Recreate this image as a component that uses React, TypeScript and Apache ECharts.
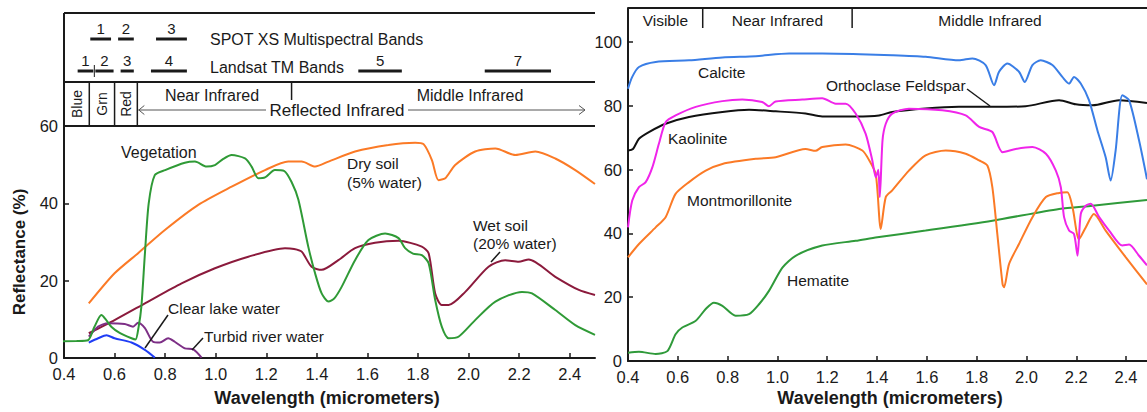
import { useEffect, useRef } from "react";
import * as echarts from "echarts";

// ---------- axis ticks ----------
const xTicks = [0.4, 0.6, 0.8, 1.0, 1.2, 1.4, 1.6, 1.8, 2.0, 2.2, 2.4];
const leftYTicks = [0, 20, 40, 60];
const rightYTicks = [0, 20, 40, 60, 80, 100];

// ---------- left panel: [wavelength µm, reflectance %] ----------
const vegetation: [number, number][] = [
  [0.147, 4.0], [0.3, 4.2], [0.45, 4.4], [0.495, 4.6], [0.52, 8], [0.548, 11.1], [0.565, 10],
  [0.587, 8.1], [0.62, 6.5], [0.667, 5.1], [0.683, 4.8], [0.695, 8], [0.706, 13.3], [0.72, 27],
  [0.735, 40], [0.759, 47.3], [0.8, 48.6], [0.878, 50.5], [0.918, 50.8], [0.964, 49.5],
  [0.997, 49.9], [1.03, 51.5], [1.063, 52.5], [1.116, 51.6], [1.142, 49.5], [1.168, 46.5],
  [1.195, 46.7], [1.234, 48.6], [1.27, 48.4], [1.3, 45.5], [1.327, 40.9], [1.366, 28.8],
  [1.393, 21.9], [1.419, 16.7], [1.446, 14.6], [1.47, 15.5], [1.498, 18.4], [1.551, 25.3],
  [1.604, 30.5], [1.67, 32.2], [1.723, 31], [1.749, 28.4], [1.78, 27], [1.815, 26.6],
  [1.842, 24.5], [1.868, 15], [1.894, 8.1], [1.921, 5.1], [1.96, 5.5], [2.026, 9.8],
  [2.106, 14.6], [2.211, 17.1], [2.251, 16.7], [2.343, 12.4], [2.422, 8.5], [2.5, 6],
];
const drySoil: [number, number][] = [
  [0.498, 14.1], [0.6, 21.9], [0.693, 27.1], [0.799, 33.1], [0.931, 39.6], [1.063, 44.3],
  [1.195, 48.6], [1.287, 50.8], [1.34, 50.8], [1.393, 49.5], [1.446, 50.8], [1.551, 53.4],
  [1.683, 55.1], [1.789, 55.7], [1.822, 55.3], [1.855, 51.2], [1.881, 46], [1.908, 46.5],
  [1.947, 49.9], [2.026, 53.4], [2.106, 54.2], [2.185, 52.5], [2.264, 53.4], [2.343, 51.6],
  [2.422, 48.6], [2.5, 45],
];
const wetSoil: [number, number][] = [
  [0.498, 6.4], [0.6, 9.8], [0.733, 14.6], [0.865, 19.3], [0.997, 23.2], [1.129, 26.2],
  [1.274, 28.4], [1.31, 28.2], [1.34, 27.5], [1.379, 23.6], [1.419, 22.8], [1.485, 25.3],
  [1.551, 28.4], [1.63, 29.8], [1.723, 30.3], [1.815, 28.8], [1.842, 27.1], [1.868, 16.7],
  [1.894, 13.7], [1.921, 13.7], [1.987, 17.1], [2.079, 23.6], [2.145, 25.3], [2.198, 24.9],
  [2.238, 25.5], [2.343, 21], [2.436, 17.6], [2.5, 16.3],
];
const clearLakeWater: [number, number][] = [
  [0.498, 4], [0.535, 5.1], [0.568, 5.9], [0.6, 5.1], [0.667, 4], [0.72, 2.1], [0.759, 0.1],
];
const turbidRiverWater: [number, number][] = [
  [0.498, 5.5], [0.535, 8.1], [0.574, 9], [0.64, 8.8], [0.673, 8.1], [0.693, 9.1], [0.72, 7.7],
  [0.752, 4.2], [0.779, 4], [0.812, 5.1], [0.838, 4.2], [0.878, 2.5], [0.911, 2.2], [0.944, 0.1],
];

// ---------- right panel ----------
const calcite: [number, number][] = [
  [0.4, 85.4], [0.417, 89.1], [0.444, 92.2], [0.511, 93.8], [0.645, 94.3], [0.779, 95.2],
  [0.913, 95.6], [1.047, 96.4], [1.18, 96.4], [1.33, 96.2], [1.461, 95.9], [1.595, 95.4],
  [1.729, 94.3], [1.783, 94.9], [1.836, 92.8], [1.87, 86.5], [1.89, 90.7], [1.923, 93.3],
  [1.97, 90.7], [1.993, 87.5], [2.024, 92.8], [2.057, 94.3], [2.104, 92.8], [2.144, 89.1],
  [2.171, 87], [2.191, 89.1], [2.218, 87], [2.251, 81.8], [2.285, 72.3], [2.318, 63.9],
  [2.338, 56.6], [2.358, 66], [2.385, 83.3], [2.412, 81.8], [2.452, 69.2], [2.484, 57],
];
const orthoclase: [number, number][] = [
  [0.4, 66], [0.42, 66.5], [0.444, 69.7], [0.484, 71.8], [0.551, 74.4], [0.645, 76.5],
  [0.779, 78.1], [0.886, 78.8], [0.993, 78.3], [1.113, 77.6], [1.18, 76.7], [1.314, 76.7],
  [1.408, 77], [1.461, 78.1], [1.595, 79.2], [1.729, 79.7], [1.863, 79.7], [1.997, 79.9],
  [2.131, 81.8], [2.198, 80.5], [2.265, 80.2], [2.372, 81.8], [2.484, 80.9],
];
const kaolinite: [number, number][] = [
  [0.4, 41.9], [0.417, 50.3], [0.444, 54.5], [0.471, 56.1], [0.498, 60.8], [0.524, 68.1],
  [0.551, 74.9], [0.591, 77], [0.672, 79.7], [0.779, 81.5], [0.859, 82], [0.939, 81.2],
  [0.966, 79.9], [0.993, 81.4], [1.1, 82], [1.18, 82.4], [1.234, 80.7], [1.274, 80.7],
  [1.314, 77.6], [1.354, 71.3], [1.381, 62.9], [1.395, 57.6], [1.405, 60], [1.411, 51.4],
  [1.422, 69.2], [1.435, 74.4], [1.461, 77.6], [1.528, 79.1], [1.662, 78.6], [1.756, 77],
  [1.81, 73.4], [1.863, 71.8], [1.904, 65.5], [1.957, 66.5], [2.024, 67.1], [2.078, 65],
  [2.118, 59.7], [2.138, 54.5], [2.151, 45.1], [2.171, 40.9], [2.191, 39.8], [2.205, 33],
  [2.218, 46.1], [2.238, 48.7], [2.258, 49.3], [2.292, 45.1], [2.332, 40.9], [2.385, 36.2],
  [2.412, 36.5], [2.452, 33], [2.484, 30],
];
const montmorillonite: [number, number][] = [
  [0.4, 32.5], [0.444, 36.7], [0.511, 41.9], [0.551, 45.1], [0.591, 52.4], [0.645, 56.1],
  [0.712, 59.7], [0.779, 61.8], [0.913, 63.4], [0.993, 63.9], [1.113, 66.5], [1.153, 65.9],
  [1.18, 67.1], [1.274, 67.9], [1.341, 66], [1.368, 63], [1.395, 58.5], [1.415, 41.4],
  [1.435, 51.4], [1.461, 53.5], [1.528, 59.7], [1.595, 64.5], [1.676, 66], [1.756, 65],
  [1.81, 62.9], [1.843, 61.3], [1.863, 54.5], [1.883, 39.8], [1.904, 24.1], [1.91, 23.1],
  [1.93, 30.4], [1.97, 36.7], [2.024, 45.1], [2.078, 51.4], [2.131, 52.7], [2.164, 52.9],
  [2.185, 48.2], [2.211, 38.2], [2.238, 41.9], [2.271, 46.1], [2.318, 40.9], [2.399, 32.5],
  [2.484, 24],
];
const hematite: [number, number][] = [
  [0.4, 2.6], [0.444, 2.9], [0.511, 2.2], [0.558, 3.1], [0.591, 8.4], [0.618, 10.5],
  [0.672, 12.6], [0.712, 16.3], [0.745, 18.3], [0.779, 17.3], [0.832, 14.2], [0.886, 14.7],
  [0.926, 17.8], [0.966, 22], [1.02, 29.3], [1.073, 33], [1.18, 36.2], [1.314, 37.7],
  [1.401, 38.8], [1.595, 40.9], [1.863, 44], [2.131, 47.7], [2.265, 48.7], [2.484, 50.5],
];

// ---------- header bands (µm) ----------
const spotBands: [number, number, string][] = [
  [0.5, 0.59, "1"], [0.61, 0.68, "2"], [0.76, 0.89, "3"],
];
const landsatBands: [number, number, string][] = [
  [0.45, 0.52, "1"], [0.52, 0.6, "2"], [0.62, 0.68, "3"], [0.74, 0.89, "4"],
  [1.56, 1.74, "5"], [2.06, 2.33, "7"],
];
const leftRegionDividers = [0.5, 0.6, 0.69];
const rightRegionDividers = [0.7, 1.3];

const FONT = '"Liberation Sans", Arial, Helvetica, sans-serif';
const INK = "#1a1a1a";
const ANN = 15.5;

function txt(
  text: string, x: number, y: number, size: number,
  opts: { bold?: boolean; align?: string; rotation?: number; fill?: string } = {}
) {
  const align = opts.align || "left";
  return {
    type: "text",
    x, y,
    rotation: opts.rotation || 0,
    z: 10,
    style: {
      text,
      fill: opts.fill || INK,
      font: `${opts.bold ? "bold " : ""}${size}px ${FONT}`,
      align, textAlign: align,
      verticalAlign: "middle", textVerticalAlign: "middle",
    },
  };
}
function ln(x1: number, y1: number, x2: number, y2: number, w = 1.5, stroke = INK) {
  return { type: "line", z: 10, shape: { x1, y1, x2, y2 }, style: { stroke, lineWidth: w } };
}

function lineSeries(name: string, data: [number, number][], color: string, idx: number, extra: any = {}) {
  return {
    type: "line", name, data, xAxisIndex: idx, yAxisIndex: idx,
    showSymbol: false, symbol: "none", smooth: 0.25,
    lineStyle: { color, width: 2 }, itemStyle: { color },
    silent: true, ...extra,
  };
}

export default function App() {
  const ref = useRef<HTMLDivElement>(null);
  useEffect(() => {
    document.body.style.margin = "0";
    if (!ref.current) return;
    const chart = echarts.init(ref.current, null, { renderer: "svg" });

    const xAxisCommon = {
      type: "value",
      interval: 0.2,
      axisLine: { lineStyle: { color: INK, width: 2 } },
      axisTick: { inside: true, length: 5, lineStyle: { color: INK, width: 1.5 }, customValues: xTicks },
      axisLabel: {
        color: INK, fontSize: 16.5, fontFamily: FONT, margin: 8, lineHeight: 16,
        customValues: xTicks,
        formatter: (v: number) => v.toFixed(1),
      },
      splitLine: { show: false },
    };
    const yAxisCommon = {
      type: "value",
      interval: 20,
      axisLine: { show: true, lineStyle: { color: INK, width: 2 } },
      axisLabel: { color: INK, fontSize: 16.5, fontFamily: FONT, margin: 6, lineHeight: 13 },
      splitLine: { show: false },
    };

    chart.setOption({
      animation: false,
      backgroundColor: "#ffffff",
      grid: [
        { left: 64, top: 126, width: 531, height: 232 },
        { left: 628, top: 8, right: 0, bottom: 51 },
      ],
      xAxis: [
        { ...xAxisCommon, gridIndex: 0, min: 0.4, max: 2.5 },
        { ...xAxisCommon, gridIndex: 1, min: 0.4, max: 2.484 },
      ],
      yAxis: [
        {
          ...yAxisCommon, gridIndex: 0, min: 0, max: 60,
          axisTick: { inside: true, length: 5, lineStyle: { color: INK, width: 1.5 }, customValues: leftYTicks },
          axisLabel: { ...yAxisCommon.axisLabel, customValues: leftYTicks },
        },
        {
          ...yAxisCommon, gridIndex: 1, min: 0, max: 110.7,
          axisTick: { inside: true, length: 5, lineStyle: { color: INK, width: 1.5 }, customValues: rightYTicks },
          axisLabel: { ...yAxisCommon.axisLabel, customValues: rightYTicks },
        },
      ],
      series: [
        lineSeries("Dry soil (5% water)", drySoil, "#fb7a26", 0),
        lineSeries("Wet soil (20% water)", wetSoil, "#8b1a3c", 0),
        lineSeries("Turbid river water", turbidRiverWater, "#7d2f86", 0),
        lineSeries("Clear lake water", clearLakeWater, "#1f3df5", 0),
        lineSeries("Vegetation", vegetation, "#2f9a36", 0, { clip: false }),
        lineSeries("Hematite", hematite, "#2f9a3a", 1),
        lineSeries("Montmorillonite", montmorillonite, "#fb7a26", 1),
        lineSeries("Orthoclase Feldspar", orthoclase, "#111111", 1),
        lineSeries("Kaolinite", kaolinite, "#f024ea", 1),
        lineSeries("Calcite", calcite, "#3a7ee6", 1),
      ],
    });

    const px0 = (w: number) => chart.convertToPixel({ xAxisIndex: 0 }, w) as number;
    const px1 = (w: number) => chart.convertToPixel({ xAxisIndex: 1 }, w) as number;

    const g: any[] = [];
    // left header box
    g.push(ln(64, 13, 595, 13, 2));
    g.push(ln(64, 82, 595, 82, 2));
    g.push(ln(64, 126, 595, 126, 2));
    g.push(ln(64, 13, 64, 126, 2));
    leftRegionDividers.forEach((w) => g.push(ln(px0(w), 82, px0(w), 126, 1.5)));
    g.push(ln(px0(1.3), 82, px0(1.3), 100, 1.5));
    // bands
    spotBands.forEach(([a, b, l]) => {
      g.push(ln(px0(a) + 1, 39, px0(b) - 1, 39, 3));
      g.push(txt(l, (px0(a) + px0(b)) / 2, 28, 15, { align: "center" }));
    });
    landsatBands.forEach(([a, b, l]) => {
      g.push(ln(px0(a) + 1, 71, px0(b) - 1, 71, 3));
      g.push(txt(l, (px0(a) + px0(b)) / 2, 60, 15, { align: "center" }));
    });
    g.push(ln(px0(0.52), 65, px0(0.52), 77, 1));
    g.push(txt("SPOT XS Multispectral Bands", 210, 39, 16));
    g.push(txt("Landsat TM Bands", 210, 67, 16));
    // region labels
    const bx = [64, px0(0.5), px0(0.6), px0(0.69)];
    ["Blue", "Grn", "Red"].forEach((t, i) =>
      g.push(txt(t, (bx[i] + bx[i + 1]) / 2, 104, 14, { align: "center", rotation: Math.PI / 2 }))
    );
    g.push(txt("Near Infrared", 212, 95, 16, { align: "center" }));
    g.push(txt("Middle Infrared", 470, 95, 16, { align: "center" }));
    g.push(txt("Reflected Infrared", 337, 110, 17, { align: "center" }));
    g.push(ln(px0(0.69) + 1, 110, 266, 110, 1, "#555"));
    g.push(ln(408, 110, 585, 110, 1, "#555"));
    g.push({ type: "polyline", z: 10, shape: { points: [[px0(0.69) + 7, 105.5], [px0(0.69) + 1.5, 110], [px0(0.69) + 7, 114.5]] }, style: { stroke: "#555", lineWidth: 1, fill: "none" } });
    g.push({ type: "polyline", z: 10, shape: { points: [[579, 105.5], [585, 110], [579, 114.5]] }, style: { stroke: "#555", lineWidth: 1, fill: "none" } });

    // left annotations
    g.push(txt("Vegetation", 121, 152, 16));
    g.push(txt("Dry soil", 347, 163, ANN));
    g.push(txt("(5% water)", 347, 182, ANN));
    g.push(txt("Wet soil", 473, 225, ANN));
    g.push(txt("(20% water)", 473, 243, ANN));
    g.push(ln(500, 252, 491, 262, 1.5));
    g.push(txt("Clear lake water", 168, 308, ANN));
    g.push(ln(168, 315, 145, 348, 1.5));
    g.push(txt("Turbid river water", 204, 336, ANN));
    g.push(ln(203, 338, 192, 350, 1.5));

    // axis titles
    g.push(txt("Reflectance (%)", 19, 252, 17, { bold: true, align: "center", rotation: Math.PI / 2 }));
    g.push(txt("Wavelength (micrometers)", 327, 398, 18, { bold: true, align: "center" }));
    g.push(txt("Wavelength (micrometers)", 890, 398, 18, { bold: true, align: "center" }));

    // right header
    g.push(ln(628, 8, 1147, 8, 2));
    rightRegionDividers.forEach((w) => g.push(ln(px1(w), 8, px1(w), 28, 1.5)));
    g.push(txt("Visible", (628 + px1(0.7)) / 2, 20, 15.5, { align: "center" }));
    g.push(txt("Near Infrared", (px1(0.7) + px1(1.3)) / 2, 20, 15.5, { align: "center" }));
    g.push(txt("Middle Infrared", 990, 20, 15.5, { align: "center" }));

    // right annotations
    g.push(txt("Calcite", 698, 72, ANN));
    g.push(txt("Orthoclase Feldspar", 826, 85, ANN));
    g.push(ln(967, 89, 990, 106, 1.5));
    g.push(txt("Kaolinite", 668, 138, ANN));
    g.push(txt("Montmorillonite", 687, 200, ANN));
    g.push(txt("Hematite", 787, 280, ANN));

    chart.setOption({ graphic: g });

    return () => chart.dispose();
  }, []);
  return <div ref={ref} style={{ width: 1147, height: 412 }} />;
}
